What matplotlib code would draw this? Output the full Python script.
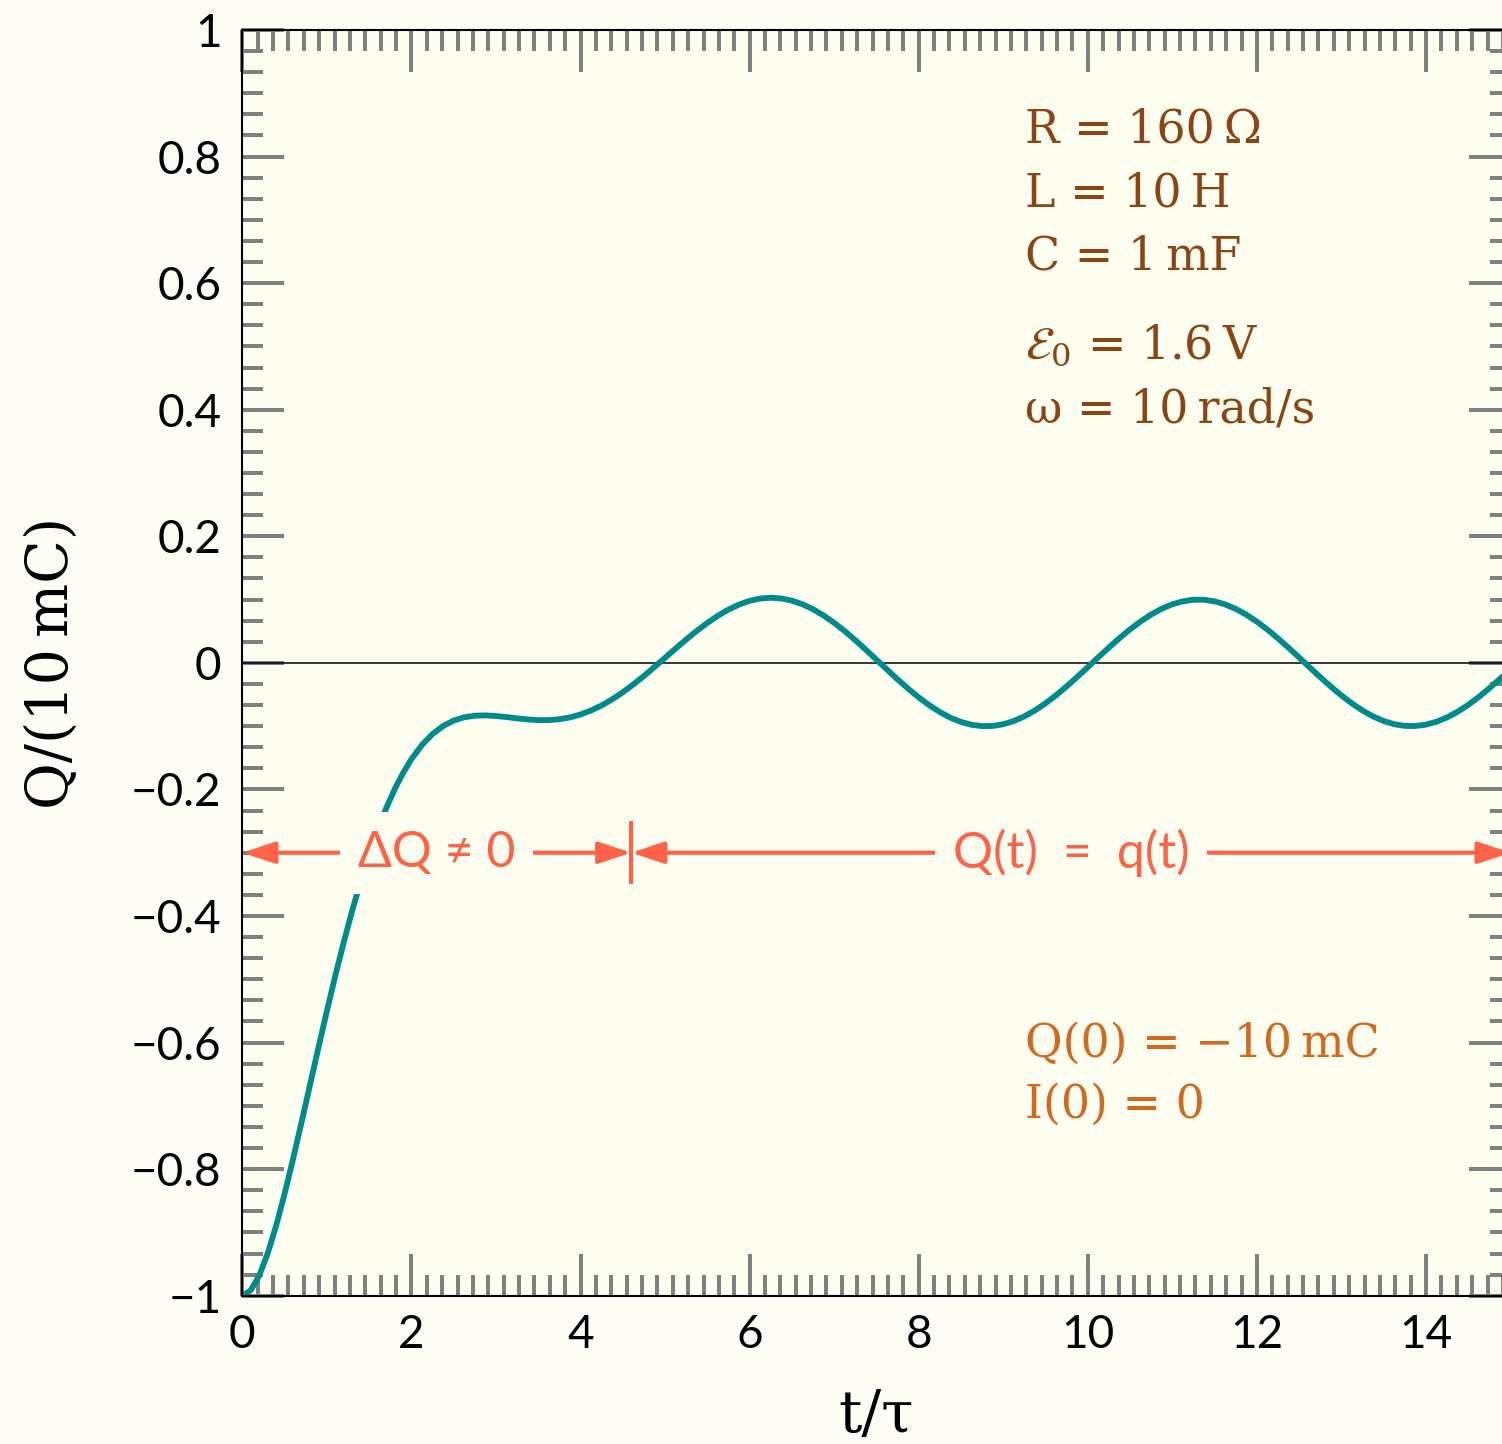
import matplotlib
matplotlib.use("Agg")
import matplotlib.pyplot as plt
from matplotlib.ticker import MultipleLocator, AutoMinorLocator, FuncFormatter

plt.rcParams["mathtext.fontset"] = "dejavuserif"

# charge Q/(10 mC), against t/tau
t_tau = [0.0, 0.1, 0.2, 0.3, 0.4, 0.5, 0.6, 0.7, 0.8, 0.9, 1.0,
         1.1, 1.2, 1.3, 1.4, 1.5, 1.6, 1.7, 1.8, 1.9, 2.0,
         2.125, 2.25, 2.375, 2.5, 2.625, 2.75, 2.875, 3.0,
         3.125, 3.25, 3.375, 3.5, 3.625, 3.75, 3.875, 4.0,
         4.125, 4.25, 4.375, 4.5, 4.625, 4.75, 4.875, 5.0,
         5.125, 5.25, 5.375, 5.5, 5.625, 5.75, 5.875, 6.0,
         6.125, 6.25, 6.375, 6.5, 6.625, 6.75, 6.875, 7.0,
         7.125, 7.25, 7.375, 7.5, 7.625, 7.75, 7.875, 8.0,
         8.125, 8.25, 8.375, 8.5, 8.625, 8.75, 8.875, 9.0,
         9.125, 9.25, 9.375, 9.5, 9.625, 9.75, 9.875, 10.0,
         10.125, 10.25, 10.375, 10.5, 10.625, 10.75, 10.875, 11.0,
         11.125, 11.25, 11.375, 11.5, 11.625, 11.75, 11.875, 12.0,
         12.125, 12.25, 12.375, 12.5, 12.625, 12.75, 12.875, 13.0,
         13.125, 13.25, 13.375, 13.5, 13.625, 13.75, 13.875, 14.0,
         14.125, 14.25, 14.375, 14.5, 14.625, 14.75, 14.875, 15.0]
q_norm = [-1.0, -0.9915, -0.9683, -0.9334, -0.8896, -0.8391, -0.7841, -0.7263, -0.6673, -0.6083, -0.5504,
          -0.4944, -0.4414, -0.3914, -0.3452, -0.3028, -0.2645, -0.2303, -0.2003, -0.1744, -0.1522,
          -0.1297, -0.1124, -0.0998, -0.0912, -0.0860, -0.0835, -0.0830, -0.0840,
          -0.0857, -0.0877, -0.0894, -0.0905, -0.0905, -0.0891, -0.0862, -0.0816,
          -0.0753, -0.0673, -0.0576, -0.0465, -0.0341, -0.0207, -0.0065, 0.0080,
          0.0226, 0.0369, 0.0505, 0.0631, 0.0745, 0.0842, 0.0921, 0.0980,
          0.1016, 0.1029, 0.1018, 0.0983, 0.0926, 0.0847, 0.0748, 0.0632,
          0.0501, 0.0358, 0.0206, 0.0050, -0.0106, -0.0261, -0.0408, -0.0546,
          -0.0670, -0.0778, -0.0867, -0.0934, -0.0979, -0.1000, -0.0997, -0.0970,
          -0.0919, -0.0845, -0.0751, -0.0639, -0.0511, -0.0371, -0.0222, -0.0067,
          0.0089, 0.0243, 0.0391, 0.0530, 0.0655, 0.0765, 0.0856, 0.0926,
          0.0973, 0.0997, 0.0997, 0.0972, 0.0923, 0.0852, 0.0761, 0.0650,
          0.0524, 0.0385, 0.0237, 0.0083, -0.0073, -0.0228, -0.0376, -0.0516,
          -0.0643, -0.0754, -0.0847, -0.0920, -0.0970, -0.0996, -0.0998, -0.0976,
          -0.0930, -0.0861, -0.0771, -0.0663, -0.0538, -0.0400, -0.0253, -0.0099]

params = ["R = 160\u2009\u03a9", "L = 10\u2009H", "C = 1\u2009mF",
          "$\\mathcal{E}_0$ = 1.6\u2009V", "\u03c9 = 10\u2009rad/s"]
initial = ["Q(0) = \u221210\u2009mC", "I(0) = 0"]

split_t = 4.6
arrow_q = -0.3
transient_label = "\u0394Q \u2260 0"
steady_label = "Q(t)\u2002=\u2002q(t)"

xlim = (0, 15)
ylim = (-1, 1)

fig_bg = "#fdfdf6"
ax_bg = "#fefef0"
teal = "#008b8b"
tomato = "#ff6347"
brown = "#8b4513"
orange = "#d2691e"
sans = ["Lato", "DejaVu Sans"]
serif = ["DejaVu Serif", "DejaVu Sans"]

fig = plt.figure(figsize=(15.02, 14.44), dpi=100, facecolor=fig_bg)
ax = fig.add_axes([242.3 / 1502, 1 - 1295.7 / 1444, 1268.3 / 1502, 1265.7 / 1444])
ax.set_facecolor(ax_bg)

ax.axhline(0, color="black", lw=1.1, zorder=1.8)
ax.plot(t_tau, q_norm, color=teal, lw=4.2, solid_capstyle="round",
        solid_joinstyle="round", zorder=2)

ax.set_xlim(*xlim)
ax.set_ylim(*ylim)

ax.xaxis.set_major_locator(MultipleLocator(2))
ax.xaxis.set_minor_locator(AutoMinorLocator(11))
ax.yaxis.set_major_locator(MultipleLocator(0.2))
ax.yaxis.set_minor_locator(AutoMinorLocator(6))


def fmt(v, _):
    v = round(v, 6)
    if v == 0:
        return "0"
    return f"{v:g}".replace("-", "\u2212")


ax.xaxis.set_major_formatter(FuncFormatter(fmt))
ax.yaxis.set_major_formatter(FuncFormatter(fmt))

ax.tick_params(which="both", direction="in", top=True, right=True,
               color="#808080", width=2.9)
ax.tick_params(which="major", length=30)
ax.tick_params(which="minor", length=15)
ax.tick_params(axis="y", which="major", pad=15)
ax.tick_params(axis="x", which="major", pad=13)
for lab in ax.get_xticklabels() + ax.get_yticklabels():
    lab.set_family(sans)
    lab.set_fontsize(33)

for sp in ax.spines.values():
    sp.set_color("black")
    sp.set_linewidth(1.5)

ax.set_xlabel("t/\u03c4", family=serif, fontsize=42)
ax.set_ylabel("Q/(10\u2009mC)", family=serif, fontsize=41)
ax.xaxis.set_label_coords(0.5, -0.073)
ax.yaxis.set_label_coords(-0.128, 0.5)

# circuit parameters
y = 0.8215
for i, s in enumerate(params):
    ax.text(9.26, y, s, color=brown, fontsize=33, family=serif, va="baseline", ha="left")
    y -= 0.1 + (0.041 if i == 2 else 0)

y = -0.6223
for s in initial:
    ax.text(9.26, y, s, color=orange, fontsize=33, family=serif, va="baseline", ha="left")
    y -= 0.097

# region arrows
astyle = dict(arrowstyle="<|-|>,head_length=0.6,head_width=0.2", color=tomato,
              lw=3, mutation_scale=33, shrinkA=0, shrinkB=0)
ax.annotate("", xy=(split_t, arrow_q), xytext=(xlim[0], arrow_q),
            arrowprops=astyle, annotation_clip=False)
ax.annotate("", xy=(xlim[1], arrow_q), xytext=(split_t, arrow_q),
            arrowprops=astyle, annotation_clip=False)
ax.vlines(split_t, arrow_q - 0.05, arrow_q + 0.05, color=tomato, lw=3, zorder=4)

box = dict(boxstyle="square,pad=0.36", facecolor=ax_bg, edgecolor="none")
ax.text((xlim[0] + split_t) / 2, arrow_q, transient_label, color=tomato, fontsize=36,
        family=sans, ha="center", va="center", bbox=box, zorder=5)
ax.text((split_t + xlim[1]) / 2, arrow_q, steady_label, color=tomato, fontsize=36,
        family=sans, ha="center", va="center", bbox=box, zorder=5)

fig.savefig("out.png", dpi=100, facecolor=fig_bg)
